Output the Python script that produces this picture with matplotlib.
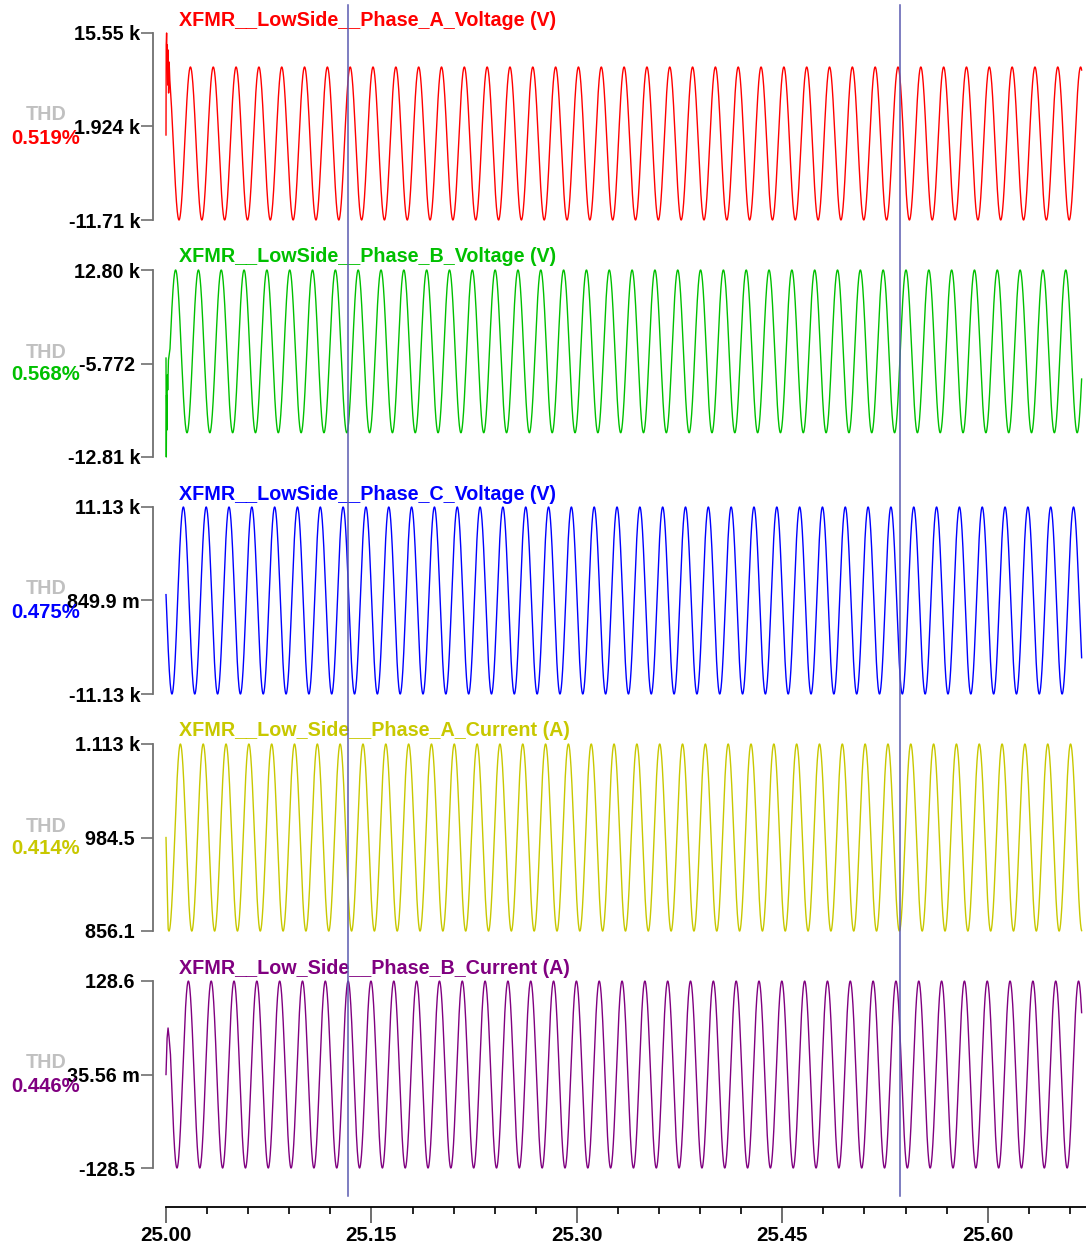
import numpy as np
import matplotlib
matplotlib.use('Agg')
from matplotlib import pyplot as plt
from matplotlib import transforms
from matplotlib.lines import Line2D
from matplotlib.ticker import MultipleLocator

plt.rcParams['font.family'] = ['Liberation Sans', 'DejaVu Sans']
plt.rcParams['font.weight'] = 'bold'

# ---- chart data ----
T0 = 25.0            # start of the trace window (s)
T_END = 0.6686       # trace length after T0 (s)
FREQ = 60.0          # Hz

titles = ['XFMR__LowSide__Phase_A_Voltage (V)',
          'XFMR__LowSide__Phase_B_Voltage (V)',
          'XFMR__LowSide__Phase_C_Voltage (V)',
          'XFMR__Low_Side__Phase_A_Current (A)',
          'XFMR__Low_Side__Phase_B_Current (A)']
colors = ['#ff0000', '#00c000', '#0000ff', '#c8c800', '#800080']
thd_values = ['0.519%', '0.568%', '0.475%', '0.414%', '0.446%']

# axis min / mid / max as shown
y_min = [-11710.0, -12810.0, -11130.0, 856.1, -128.5]
y_mid = [1924.0, -5.772, 0.8499, 984.5, 0.03556]
y_max = [15550.0, 12800.0, 11130.0, 1113.0, 128.6]
y_labels = [['-11.71 k', '1.924 k', '15.55 k'],
            ['-12.81 k', '-5.772 ', '12.80 k'],
            ['-11.13 k', '849.9 m', '11.13 k'],
            ['856.1 ', '984.5 ', '1.113 k'],
            ['-128.5 ', '35.56 m', '128.6 ']]

# steady-state sinusoid per trace: offset, amplitude, phase of the peak (cycles)
offsets = [-558.0, 1655.0, 0.0, 984.5, 0.0]
amplitudes = [11150.0, 11145.0, 11130.0, 128.5, 128.5]
peak_phase = [0.07, 0.42, 0.76, 0.63, 0.98]

# start-up transients (time after T0, value); steady wave follows
trans_t = [[0, 0.00015, 0.00044, 0.00073, 0.00095, 0.00124, 0.0016, 0.0019, 0.0023, 0.0028],
           [0, 0.00022, 0.00044, 0.00066, 0.00095, 0.00124, 0.0018],
           [],
           [0],
           [0, 0.0008, 0.0015, 0.0022]]
trans_v = [[678, 13800, 15550, 11610, 13800, 7970, 13070, 6800, 11320, 8700],
           [740, -12810, -4325, -9120, -1585, -3640, 470],
           [],
           [984.5],
           [0, 50, 64, 52]]
steady_start = [0.0033, 0.0029, 0.0, 0.0015, 0.0032]

cursors = [25.1328, 25.5358]
x_major = [25.00, 25.15, 25.30, 25.45, 25.60]

# ---- layout in pixels ----
W, H = 1086, 1251
panel_tops = [33, 270, 507, 744, 981]
panel_h = 187
left_px, right_px = 166, 1086

fig = plt.figure(figsize=(W / 100, H / 100), dpi=100)
axes = []
for i in range(5):
    top = panel_tops[i]
    ax = fig.add_axes([left_px / W, 1 - (top + panel_h) / H,
                       (right_px - left_px) / W, panel_h / H])
    axes.append(ax)

    t = np.arange(steady_start[i], T_END, 2e-5)
    v = offsets[i] + amplitudes[i] * np.cos(2 * np.pi * (FREQ * t - peak_phase[i]))
    t = np.concatenate([np.array(trans_t[i], float), t])
    v = np.concatenate([np.array(trans_v[i], float), v])
    ax.plot(T0 + t, v, color=colors[i], lw=1.0, clip_on=False)

    ax.set_xlim(T0, T0 + (right_px - left_px) / 1369.5)
    ax.set_ylim(y_min[i], y_max[i])
    for s in ['top', 'right']:
        ax.spines[s].set_visible(False)
    ax.spines['left'].set_position(('outward', 13 * 0.72))
    ax.spines['left'].set_color('#707070')
    ax.spines['left'].set_linewidth(1.3)
    ax.set_yticks([y_min[i], y_mid[i], y_max[i]])
    ax.set_yticklabels(y_labels[i], fontsize=14.2, fontweight='bold')
    ax.tick_params(axis='y', direction='out', length=12 * 0.72, width=1.2,
                   color='#707070', pad=0.6)

    ax.text(179 / W, 1 - (top - 13) / H, titles[i], transform=fig.transFigure,
            color=colors[i], fontsize=14.2, fontweight='bold',
            ha='left', va='center')
    mid_y = top + panel_h / 2
    fig.text(46 / W, 1 - (mid_y - 11.5) / H, 'THD', color='#c0c0c0',
             fontsize=14.2, fontweight='bold', ha='center', va='center')
    fig.text(46 / W, 1 - (mid_y + 11.5) / H, thd_values[i], color=colors[i],
             fontsize=14.6, fontweight='bold', ha='center', va='center')

    if i < 4:
        ax.spines['bottom'].set_visible(False)
        ax.set_xticks([])

# bottom time axis
axb = axes[-1]
axb.spines['bottom'].set_position(('outward', 39 * 0.72))
axb.spines['bottom'].set_color('black')
axb.spines['bottom'].set_linewidth(1.3)
axb.set_xticks(x_major)
axb.set_xticklabels(['%.2f' % x for x in x_major], fontsize=14.8, fontweight='bold')
axb.xaxis.set_minor_locator(MultipleLocator(0.03, offset=T0))
axb.tick_params(axis='x', which='major', direction='out', length=16 * 0.72,
                width=1.2, color='#555555', pad=2)
axb.tick_params(axis='x', which='minor', direction='out', length=7 * 0.72,
                width=1.2, color='black')

# cursor lines spanning all panels
trans = transforms.blended_transform_factory(axb.transData, fig.transFigure)
for cx in cursors:
    fig.add_artist(Line2D([cx, cx], [1 - 5 / H, 1 - 1196 / H], transform=trans,
                          color='#5a5ab0', lw=1.1))

fig.savefig('out.png', dpi=100)
